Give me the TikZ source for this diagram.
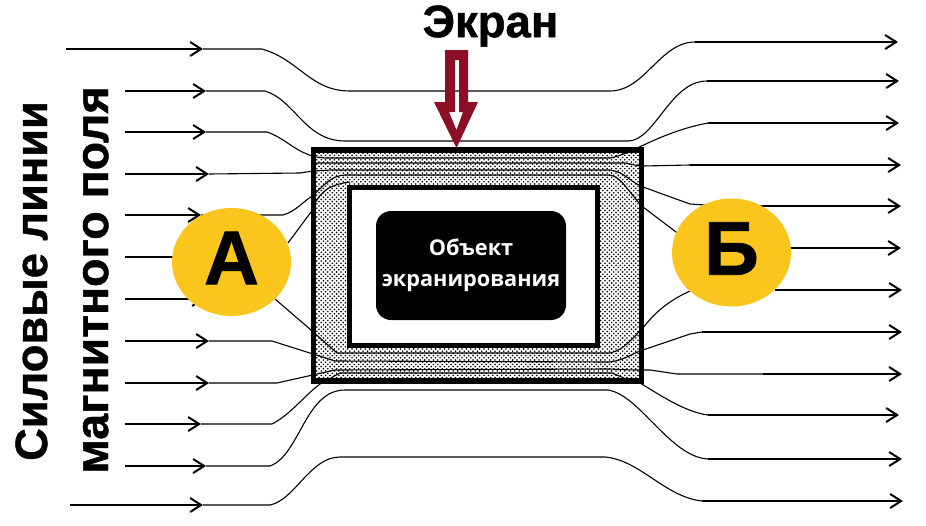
\documentclass[tikz,border=0pt]{standalone}
\usepackage{xcolor}
\usepackage{fontspec}
\setmainfont{Liberation Sans}[BoldFeatures={FakeBold=1}]
\newfontfamily\objfont{Open Sans}
\usetikzlibrary{shapes.geometric, arrows.meta, patterns, positioning}
\definecolor{badgeyellow}{HTML}{FAC51C}
\definecolor{screenred}{HTML}{8C0F26}
\pgfdeclarepatternformonly{shielddots}{\pgfqpoint{-1pt}{-1pt}}{\pgfqpoint{5.4pt}{5.4pt}}{\pgfqpoint{4.4pt}{4.4pt}}{
    \pgfpathcircle{\pgfqpoint{0pt}{0pt}}{0.9pt}
    \pgfpathcircle{\pgfqpoint{2.2pt}{2.2pt}}{0.9pt}
    \pgfusepath{fill}
}

\begin{document}
\begin{tikzpicture}[
    x=1pt, y=-1pt,
    shield/.style={draw, line width=5.5pt, pattern=shielddots, minimum width=328pt, minimum height=231pt, inner sep=0pt},
    cavity/.style={draw, line width=5pt, fill=white, minimum width=248pt, minimum height=158pt, inner sep=0pt},
    object/.style={fill=black, text=white, rounded corners=15pt, minimum width=190pt, minimum height=109pt, align=center, font=\objfont\bfseries\fontsize{21.7}{31}\selectfont},
    badge/.style={ellipse, fill=badgeyellow, minimum width=119pt, minimum height=108pt, inner sep=0pt, text depth=8pt, font=\bfseries\fontsize{76}{76}\selectfont},
    title/.style={font=\bfseries\fontsize{45.5}{45.5}\selectfont, inner sep=0pt},
    sidelabel/.style={rotate=90, anchor=base, inner sep=0pt},
    fieldin/.style={-{Straight Barb[length=11pt,width=14pt,line width=2pt]}, line width=2.6pt},
    fieldout/.style={-{Straight Barb[length=11pt,width=14pt,line width=2pt]}, line width=2.8pt},
    thin field/.style={line width=1.1pt}
]
    \useasboundingbox (0,0) rectangle (926,525);

    % Screen
    \node[shield] (screen) at (477.5,265.5) {};

    % Incoming lines
    \draw[fieldin] (66,49) -- (203,49);
    \draw[thin field] (203,49) -- (262,49) .. controls (300,60) and (310,91) .. (350,91) -- (610,91) .. controls (645,91) and (660,42) .. (695,42);
    \draw[fieldin] (125,91) -- (206,91);
    \draw[thin field] (206,91) -- (265,91) .. controls (295,100) and (305,141) .. (345,141) -- (628,141) .. controls (655,141) and (670,81) .. (707,81);
    \draw[fieldin] (125,132) -- (206,132);
    \draw[thin field] (206,132) -- (267,132) .. controls (285,138) and (295,152) .. (316,157) -- (325,158) -- (610,158) .. controls (630,155) and (660,132) .. (708,123);
    \draw[fieldin] (125,174) -- (209,174);
    \draw[thin field] (209,174) -- (300,173) -- (313,171) -- (331,170) -- (610,170) .. controls (625,172) and (630,182) .. (643,187) -- (690,204) -- (705,205);
    \draw[fieldin] (125,215) -- (201,215);
    \draw[thin field] (201,215) -- (283,215) .. controls (295,212) and (305,200) .. (311,197) .. controls (325,185) and (330,176) .. (345,175) -- (610,175) .. controls (622,177) and (628,192) .. (643,207) -- (680,235);
    \draw[fieldin] (125,257) -- (205,257);
    \draw[thin field] (288,243) -- (311,212) .. controls (318,195) and (325,185) .. (350,182);
    \draw[fieldin] (125,299) -- (205,299);
    \draw[thin field] (275,299) -- (311,330) -- (337,353) -- (610,353) .. controls (625,350) and (635,335) .. (643,328) .. controls (655,312) and (670,300) .. (690,291);
    \draw[fieldin] (125,341) -- (209,341);
    \draw[thin field] (209,341) -- (272,341) -- (335,361) -- (610,362) .. controls (625,360) and (635,352) .. (643,350) -- (690,334) -- (702,332);
    \draw[fieldin] (125,383) -- (209,383);
    \draw[thin field] (209,383) -- (277,383) -- (335,370) -- (610,369) .. controls (625,370) and (635,370) .. (650,370) -- (677,374) -- (763,374);
    \draw[fieldin] (125,424) -- (201,424);
    \draw[thin field] (201,424) -- (272,424) .. controls (290,415) and (305,395) .. (320,384) -- (340,373) -- (612,373) .. controls (625,378) and (630,382) .. (640,383) .. controls (660,395) and (685,412) .. (708,415);
    \draw[fieldin] (125,466) -- (206,466);
    \draw[thin field] (206,466) -- (270,466) .. controls (300,455) and (305,390) .. (345,390) -- (608,390) .. controls (640,395) and (670,457) .. (708,459);
    \draw[fieldin] (70,505) -- (203,505);
    \draw[thin field] (203,505) -- (270,505) .. controls (295,500) and (310,457) .. (340,457) -- (605,457) .. controls (640,460) and (665,497) .. (702,501);
    \draw[thin field] (316,163) -- (625,163) .. controls (632,164) and (636,166) .. (643,166) -- (690,165);

    % Outgoing lines
    \draw[fieldout] (695,42) -- (898,42);
    \draw[fieldout] (707,81) -- (899,81);
    \draw[fieldout] (708,123) -- (899,123);
    \draw[fieldout] (690,165) -- (901,165);
    \draw[fieldout] (755,206) -- (901,206);
    \draw[fieldout] (788,248) -- (901,248);
    \draw[fieldout] (775,290) -- (902,290);
    \draw[fieldout] (702,332) -- (902,332);
    \draw[fieldout] (763,374) -- (902,374);
    \draw[fieldout] (708,415) -- (899,415);
    \draw[fieldout] (708,459) -- (902,459);
    \draw[fieldout] (702,501) -- (903,501);

    % Inside of the screen
    \node[cavity] (cavity) at (473,266) {};
    \node[object] (object) at (471,265.5) {Объект\\экранирования};

    % Labels
    \node[badge] (badgeA) at (231.5,262) {А};
    \node[badge] (badgeB) at (731.5,252.5) {Б};
    \node[title] (screenlabel) at (490.5,26) {Экран};
    \node[sidelabel, font=\bfseries\fontsize{45.2}{45.2}\selectfont] (linesone) at (47,281) {Силовые линии};
    \node[sidelabel, font=\bfseries\fontsize{46.5}{46.5}\selectfont] (linestwo) at (108,280) {магнитного поля};

    % Pointer to the screen
    \fill[screenred, even odd rule] (445,50) -- (468,50) -- (468,102) -- (478,102) -- (456.5,148) -- (434,102) -- (445,102) -- cycle
        (455,60) -- (459,60) -- (459,112) -- (463,112) -- (456.5,130) -- (449,112) -- (455,112) -- cycle;
\end{tikzpicture}
\end{document}
